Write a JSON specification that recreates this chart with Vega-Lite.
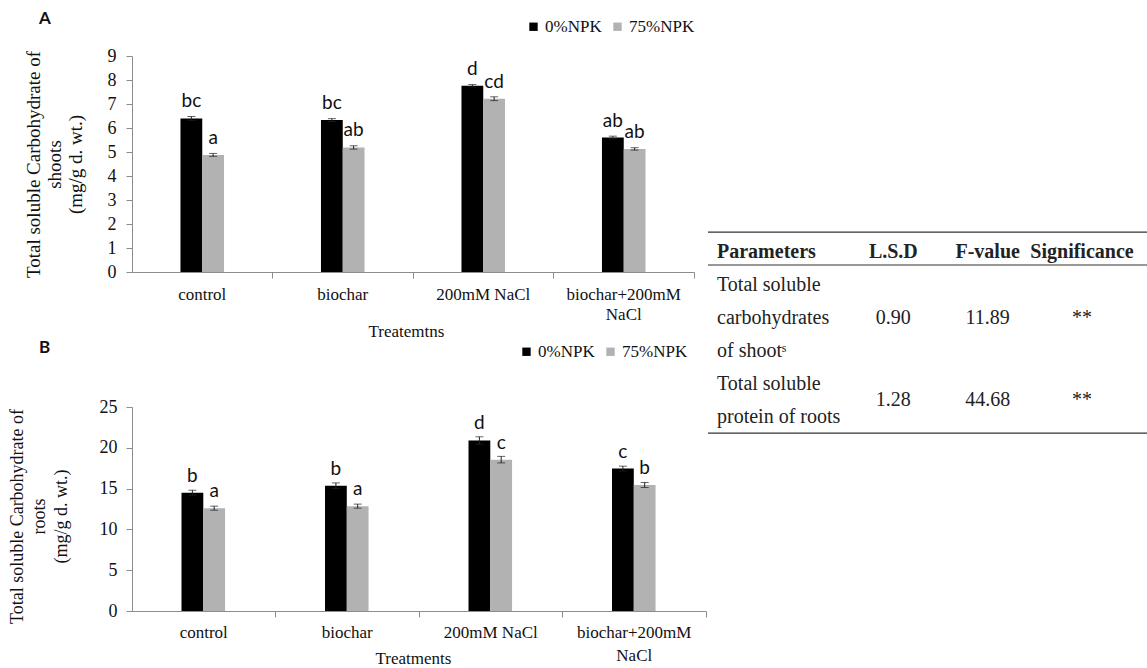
{
  "$schema": "https://vega.github.io/schema/vega-lite/v6.json",
  "background": "white",
  "padding": {"left": 8, "top": 10, "right": 0, "bottom": 0},
  "config": {
    "view": {"stroke": null},
    "font": "Liberation Serif",
    "style": {"guide-label": {"font": "Liberation Serif"}, "guide-title": {"font": "Liberation Serif"}},
    "axis": {"grid": false, "domainColor": "#8c8c8c", "tickColor": "#8c8c8c", "labelColor": "#111", "titleColor": "#111", "labelFont": "Liberation Serif", "titleFont": "Liberation Serif", "titleFontWeight": "normal"}
  },
  "datasets": {
    "shoots": [
      {"treatment": "control", "npk": "0%NPK", "value": 6.4, "err": 0.08, "letter": "bc"},
      {"treatment": "control", "npk": "75%NPK", "value": 4.88, "err": 0.06, "letter": "a"},
      {"treatment": "biochar", "npk": "0%NPK", "value": 6.33, "err": 0.06, "letter": "bc"},
      {"treatment": "biochar", "npk": "75%NPK", "value": 5.19, "err": 0.07, "letter": "ab"},
      {"treatment": "200mM NaCl", "npk": "0%NPK", "value": 7.76, "err": 0.05, "letter": "d"},
      {"treatment": "200mM NaCl", "npk": "75%NPK", "value": 7.22, "err": 0.08, "letter": "cd"},
      {"treatment": "biochar+200mM NaCl", "npk": "0%NPK", "value": 5.6, "err": 0.06, "letter": "ab"},
      {"treatment": "biochar+200mM NaCl", "npk": "75%NPK", "value": 5.13, "err": 0.05, "letter": "ab"}
    ],
    "roots": [
      {"treatment": "control", "npk": "0%NPK", "value": 14.5, "err": 0.3, "letter": "b"},
      {"treatment": "control", "npk": "75%NPK", "value": 12.6, "err": 0.25, "letter": "a"},
      {"treatment": "biochar", "npk": "0%NPK", "value": 15.35, "err": 0.35, "letter": "b"},
      {"treatment": "biochar", "npk": "75%NPK", "value": 12.85, "err": 0.25, "letter": "a"},
      {"treatment": "200mM NaCl", "npk": "0%NPK", "value": 20.9, "err": 0.45, "letter": "d"},
      {"treatment": "200mM NaCl", "npk": "75%NPK", "value": 18.55, "err": 0.4, "letter": "c"},
      {"treatment": "biochar+200mM NaCl", "npk": "0%NPK", "value": 17.45, "err": 0.3, "letter": "c"},
      {"treatment": "biochar+200mM NaCl", "npk": "75%NPK", "value": 15.45, "err": 0.3, "letter": "b"}
    ],
    "tableHeader": [
      {"col": "Parameters", "line": 0, "text": "Parameters"},
      {"col": "L.S.D", "line": 0, "text": "L.S.D"},
      {"col": "F-value", "line": 0, "text": "F-value"},
      {"col": "Significance", "line": 0, "text": "Significance"}
    ],
    "tableBody": [
      {"col": "Parameters", "line": 1, "text": "Total soluble"},
      {"col": "Parameters", "line": 2, "text": "carbohydrates"},
      {"col": "Parameters", "line": 3, "text": "of shootˢ"},
      {"col": "L.S.D", "line": 2, "text": "0.90"},
      {"col": "F-value", "line": 2, "text": "11.89"},
      {"col": "Significance", "line": 2, "text": "**"},
      {"col": "Parameters", "line": 4, "text": "Total soluble"},
      {"col": "Parameters", "line": 5, "text": "protein of roots"},
      {"col": "L.S.D", "line": 4.5, "text": "1.28"},
      {"col": "F-value", "line": 4.5, "text": "44.68"},
      {"col": "Significance", "line": 4.5, "text": "**"}
    ],
    "tableRules": [
      {"line": -0.6},
      {"line": 0.4},
      {"line": 5.5}
    ]
  },
  "spacing": 0,
  "hconcat": [
    {
      "spacing": 0,
      "resolve": {"scale": {"color": "independent"}, "legend": {"color": "independent"}},
      "vconcat": [
        {
          "width": 562,
          "height": 216,
          "title": {"text": "A", "anchor": "start", "frame": "group", "font": "Lato", "fontWeight": "bold", "fontSize": 17, "dx": -93, "offset": -10, "color": "#111"},
          "data": {"name": "shoots"},
          "encoding": {
            "x": {"field": "treatment", "type": "nominal", "sort": null, "scale": {"paddingInner": 0.69, "paddingOuter": 0.345},
              "axis": {"title": "Treatemtns", "titleFont": "Liberation Serif", "titleFontSize": 17, "titleBaseline": "middle", "titleY": 59, "titleX": 274, "labelAngle": 0, "labelFont": "Liberation Serif", "labelFontSize": 17, "labelPadding": 8, "ticks": true, "tickSize": 6, "tickColor": "#8c8c8c", "bandPosition": 2.113, "labelLineHeight": 20, "labelBaseline": "top",
                "labelExpr": "datum.label == 'biochar+200mM NaCl' ? ['biochar+200mM', 'NaCl'] : datum.label"}},
            "xOffset": {"field": "npk", "type": "nominal", "sort": ["0%NPK", "75%NPK"]},
            "y": {"field": "value", "type": "quantitative", "scale": {"domain": [0, 9], "nice": false},
              "axis": {"values": [0, 1, 2, 3, 4, 5, 6, 7, 8, 9], "labelFont": "Liberation Serif", "labelFontSize": 18, "tickSize": 6, "labelPadding": 10, "title": ["Total soluble Carbohydrate of", "shoots", "(mg/g d. wt.)"], "titleFont": "Liberation Serif", "titleFontSize": 19, "titleLineHeight": 21, "titlePadding": 22}}
          },
          "layer": [
            {
              "mark": {"type": "bar"},
              "encoding": {
                "color": {"field": "npk", "type": "nominal", "scale": {"domain": ["0%NPK", "75%NPK"], "range": ["#000000", "#b2b2b2"]},
                  "legend": {"orient": "none", "legendX": 393, "legendY": -38, "direction": "horizontal", "title": null, "symbolType": "square", "symbolSize": 70, "symbolStrokeWidth": 0, "labelFont": "Liberation Serif", "labelFontSize": 17, "labelColor": "#111", "columnPadding": 7, "labelOffset": 3}}
              }
            },
            {
              "mark": {"type": "errorbar", "ticks": {"size": 8, "color": "#222"}, "color": "#222"},
              "encoding": {
                "yError": {"field": "err"}
              }
            },
            {
              "mark": {"type": "text", "font": "Lato", "fontSize": 19, "baseline": "alphabetic", "dy": -11, "color": "#111"},
              "encoding": {
                "text": {"field": "letter"}
              }
            }
          ]
        },
        {
          "width": 574,
          "height": 204,
          "title": {"text": "B", "anchor": "start", "frame": "group", "font": "Lato", "fontWeight": "bold", "fontSize": 17, "dx": -93, "offset": -14, "color": "#111"},
          "data": {"name": "roots"},
          "encoding": {
            "x": {"field": "treatment", "type": "nominal", "sort": null, "scale": {"paddingInner": 0.69, "paddingOuter": 0.345},
              "axis": {"title": "Treatments", "titleFont": "Liberation Serif", "titleFontSize": 17, "titleBaseline": "middle", "titleY": 47, "titleX": 281, "labelAngle": 0, "labelFont": "Liberation Serif", "labelFontSize": 17, "labelPadding": 7, "ticks": true, "tickSize": 6, "tickColor": "#8c8c8c", "bandPosition": 2.113, "labelLineHeight": 23, "labelBaseline": "top",
                "labelExpr": "datum.label == 'biochar+200mM NaCl' ? ['biochar+200mM', 'NaCl'] : datum.label"}},
            "xOffset": {"field": "npk", "type": "nominal", "sort": ["0%NPK", "75%NPK"]},
            "y": {"field": "value", "type": "quantitative", "scale": {"domain": [0, 25], "nice": false},
              "axis": {"values": [0, 5, 10, 15, 20, 25], "labelFont": "Liberation Serif", "labelFontSize": 18, "tickSize": 6, "labelPadding": 9, "title": ["Total soluble Carbohydrate of", "roots", "(mg/g d. wt.)"], "titleFont": "Liberation Serif", "titleFontSize": 18, "titleLineHeight": 22, "titlePadding": 29, "titleY": 109}}
          },
          "layer": [
            {
              "mark": {"type": "bar"},
              "encoding": {
                "color": {"field": "npk", "type": "nominal", "scale": {"domain": ["0%NPK", "75%NPK"], "range": ["#000000", "#b2b2b2"]},
                  "legend": {"orient": "none", "legendX": 386, "legendY": -64, "direction": "horizontal", "title": null, "symbolType": "square", "symbolSize": 70, "symbolStrokeWidth": 0, "labelFont": "Liberation Serif", "labelFontSize": 17, "labelColor": "#111", "columnPadding": 7, "labelOffset": 3}}
              }
            },
            {
              "mark": {"type": "errorbar", "ticks": {"size": 8, "color": "#222"}, "color": "#222"},
              "encoding": {
                "yError": {"field": "err"}
              }
            },
            {
              "mark": {"type": "text", "font": "Lato", "fontSize": 19, "baseline": "alphabetic", "dy": -11, "color": "#111"},
              "encoding": {
                "text": {"field": "letter"}
              }
            }
          ]
        }
      ]
    },
    {
      "width": 439,
      "height": 387,
      "layer": [
        {
          "data": {"name": "tableRules"},
          "mark": {"type": "rule", "color": "#333", "strokeWidth": 1.2},
          "encoding": {
            "y": {"field": "line", "type": "quantitative", "scale": {"domain": [-5.94, 5.8], "reverse": true, "nice": false, "zero": false}, "axis": null}
          }
        },
        {
          "data": {"name": "tableHeader"},
          "transform": [{"filter": "datum.col == 'Parameters'"}],
          "mark": {"type": "text", "align": "left", "baseline": "middle", "font": "Liberation Serif", "fontWeight": "bold", "fontSize": 20, "color": "#222", "dx": -82},
          "encoding": {
            "x": {"field": "col", "type": "nominal", "scale": {"domain": ["Parameters", "L.S.D", "F-value", "Significance"], "range": [91, 374], "padding": 0}, "axis": null},
            "y": {"field": "line", "type": "quantitative", "axis": null},
            "text": {"field": "text"}
          }
        },
        {
          "data": {"name": "tableHeader"},
          "transform": [{"filter": "datum.col != 'Parameters'"}],
          "mark": {"type": "text", "align": "center", "baseline": "middle", "font": "Liberation Serif", "fontWeight": "bold", "fontSize": 20, "color": "#222"},
          "encoding": {
            "x": {"field": "col", "type": "nominal", "axis": null},
            "y": {"field": "line", "type": "quantitative", "axis": null},
            "text": {"field": "text"}
          }
        },
        {
          "data": {"name": "tableBody"},
          "transform": [{"filter": "datum.col == 'Parameters'"}],
          "mark": {"type": "text", "align": "left", "baseline": "middle", "font": "Liberation Serif", "fontSize": 20, "color": "#222", "dx": -82},
          "encoding": {
            "x": {"field": "col", "type": "nominal", "axis": null},
            "y": {"field": "line", "type": "quantitative", "axis": null},
            "text": {"field": "text"}
          }
        },
        {
          "data": {"name": "tableBody"},
          "transform": [{"filter": "datum.col != 'Parameters'"}],
          "mark": {"type": "text", "align": "center", "baseline": "middle", "font": "Liberation Serif", "fontSize": 20, "color": "#222"},
          "encoding": {
            "x": {"field": "col", "type": "nominal", "axis": null},
            "y": {"field": "line", "type": "quantitative", "axis": null},
            "text": {"field": "text"}
          }
        }
      ]
    }
  ]
}
